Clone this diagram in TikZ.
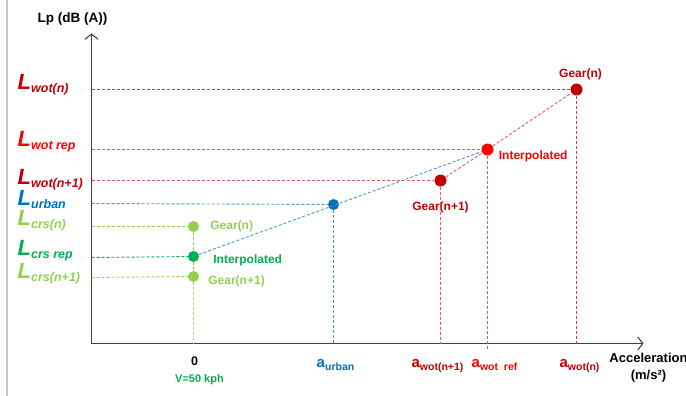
\documentclass[tikz,border=0pt]{standalone}
\usepackage{fontspec}
\setmainfont{Liberation Sans}
\usepackage{tikz}
\usetikzlibrary{arrows.meta, positioning}
\definecolor{wotdark}{HTML}{C00000}
\definecolor{wotred}{HTML}{FF0000}
\definecolor{urbblue}{HTML}{0070C0}
\definecolor{crslight}{HTML}{92D050}
\definecolor{crsgreen}{HTML}{00B050}
\definecolor{axisgray}{HTML}{404040}
\definecolor{wotline}{HTML}{E85A5A}
\definecolor{urbline}{HTML}{4A94D4}
\newcommand{\Llab}[1]{{\fontsize{22}{22}\selectfont\bfseries\itshape L}{\fontsize{12.5}{12.5}\selectfont\bfseries\itshape\raisebox{-3pt}{#1}}}
\newcommand{\alab}[1]{{\fontsize{15}{15}\selectfont\bfseries a}{\fontsize{10.5}{10.5}\selectfont\bfseries\raisebox{-3pt}{#1}}}
\tikzstyle{axis} = [line width=1.1pt, draw=axisgray, -{Straight Barb[length=5pt,width=13pt]}]
\tikzstyle{dot} = [circle, inner sep=0pt, minimum size=12pt]
\tikzstyle{guide} = [line width=0.9pt, dash pattern=on 3pt off 2pt]
\tikzstyle{ylab} = [anchor=base west, inner sep=0pt]
\tikzstyle{xlab} = [anchor=base, inner sep=0pt]
\tikzstyle{ptlab} = [font=\fontsize{12}{12}\selectfont\bfseries, inner sep=0pt]

\begin{document}
\begin{tikzpicture}[x=1pt, y=-1pt]
\useasboundingbox (-0.5,-0.5) rectangle (685.5,395.5);
\draw [gray!45, line width=1.2pt] (6.5,-0.5) -- (6.5,395.5);

    % Axes
    \coordinate (origin) at (91,343);
    \coordinate (ytop) at (91,33);
    \coordinate (xend) at (643,343);
    \draw [axis] (origin) -- (ytop);
    \draw [axis] (origin) -- (xend);
    \node (ytitle) [ylab, font=\fontsize{13.5}{13.5}\selectfont\bfseries] at (37,22) {Lp (dB (A))};
    \node (xtitle) [anchor=north, inner sep=0pt, align=center, font=\fontsize{13}{16.5}\selectfont\bfseries] at (648,352.5) {Acceleration\\(m/s²)};

    % Points
    \node (wotn) [dot, fill=wotdark] at (576,89) {};
    \node (wotrep) [dot, fill=wotred] at (487,149) {};
    \node (wotn1) [dot, fill=wotdark] at (440,180) {};
    \node (urban) [dot, minimum size=11pt, fill=urbblue] at (333,204) {};
    \node (crsn) [dot, minimum size=11pt, fill=crslight] at (193,226) {};
    \node (crsrep) [dot, minimum size=11pt, fill=crsgreen] at (193,256) {};
    \node (crsn1) [dot, minimum size=11pt, fill=crslight] at (193,276) {};

    % Point labels
    \node (gwotn) [ptlab, text=wotdark, above=3pt of wotn, xshift=4pt] {Gear(n)};
    \node (iwot) [ptlab, text=wotred, right=5pt of wotrep, yshift=-7pt] {Interpolated};
    \node (gwotn1) [ptlab, text=wotdark, below=15pt of wotn1] {Gear(n+1)};
    \node (gcrsn) [ptlab, text=crslight, right=11pt of crsn] {Gear(n)};
    \node (icrs) [ptlab, text=crsgreen, right=14pt of crsrep, yshift=-4pt] {Interpolated};
    \node (gcrsn1) [ptlab, text=crslight, right=9pt of crsn1, yshift=-5pt] {Gear(n+1)};

    % Axis references
    \coordinate (ywotn) at (91,89);
    \coordinate (ywotrep) at (91,149);
    \coordinate (ywotn1) at (91,180);
    \coordinate (yurban) at (91,203);
    \coordinate (ycrsn) at (91,226);
    \coordinate (ycrsrep) at (91,257);
    \coordinate (ycrsn1) at (91,277);
    \coordinate (x0) at (193,343);
    \coordinate (xurban) at (333,343);
    \coordinate (xwotn1) at (440,343);
    \coordinate (xwotref) at (487,350);
    \coordinate (xwotn) at (576,343);

    % Guide lines
    \draw [guide, wotdark!75] (ywotn) -- (wotn);
    \draw [guide, wotline] (ywotrep) -- (wotrep);
    \draw [guide, wotline] (ywotn1) -- (wotn1);
    \draw [guide, urbline] (yurban) -- (urban);
    \draw [guide, crslight] (ycrsn) -- (crsn);
    \draw [guide, crsgreen] (ycrsrep) -- (crsrep);
    \draw [guide, crslight] (ycrsn1) -- (crsn1);
    \draw [guide, crslight] (crsn) -- (crsrep);
    \draw [guide, crslight] (crsrep) -- (crsn1);
    \draw [guide, crslight!80] (crsn1) -- (x0);
    \draw [guide, urbline] (urban) -- (xurban);
    \draw [guide, wotline] (wotn1) -- (xwotn1);
    \draw [guide, wotline] (wotrep) -- (xwotref);
    \draw [guide, wotdark!75] (wotn) -- (xwotn);
    \draw [guide, urbline] (crsrep) -- (wotrep);
    \draw [guide, wotline] (wotn1) -- (wotrep);
    \draw [guide, wotline] (wotrep) -- (wotn);

    % Y labels
    \node (lwotn) [ylab, text=wotdark] at (17,89) {\Llab{wot(n)}};
    \node (lwotrep) [ylab, text=wotred] at (17,146) {\Llab{wot rep}};
    \node (lwotn1) [ylab, text=wotdark] at (17,184) {\Llab{wot(n+1)}};
    \node (lurban) [ylab, text=urbblue] at (17,205) {\Llab{urban}};
    \node (lcrsn) [ylab, text=crslight] at (17,225) {\Llab{crs(n)}};
    \node (lcrsrep) [ylab, text=crsgreen] at (17,255) {\Llab{crs rep}};
    \node (lcrsn1) [ylab, text=crslight] at (17,278) {\Llab{crs(n+1)}};

    % X labels
    \node (a0) [xlab, font=\fontsize{12.5}{12.5}\selectfont\bfseries] at (194,365) {0};
    \node (vkph) [xlab, text=crsgreen, font=\fontsize{11}{11}\selectfont\bfseries] at (199,382) {V=50 kph};
    \node (aurban) [xlab, text=urbblue] at (335,367) {\alab{urban}};
    \node (awotn1) [xlab, text=wotdark] at (437,367) {\alab{wot(n+1)}};
    \node (awotref) [xlab, text=wotred] at (494,367) {\alab{wot\ \ ref}};
    \node (awotn) [xlab, text=wotdark] at (579,367) {\alab{wot(n)}};
\end{tikzpicture}
\end{document}
